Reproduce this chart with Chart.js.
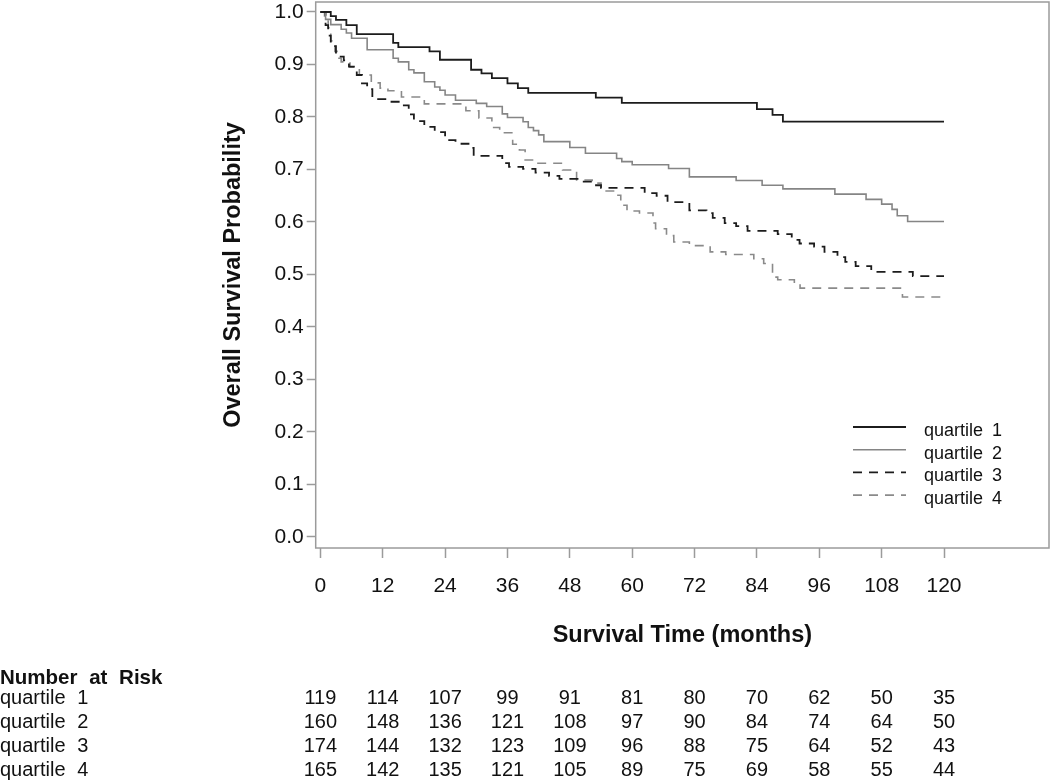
<!DOCTYPE html>
<html>
<head>
<meta charset="utf-8">
<script src="https://cdn.jsdelivr.net/npm/chart.js@4.4.1/dist/chart.umd.min.js"></script>
<style>
  html, body { margin: 0; padding: 0; background: #fff; }
  canvas { display: block; }
</style>
</head>
<body>
<canvas id="kmChart" width="1050" height="780"></canvas>
<script>
/* ======================================================
   DATA
====================================================== */

const seriesLabels = ["quartile 1", "quartile 2", "quartile 3", "quartile 4"];

const q1Time = [0, 2, 3, 5, 7, 14, 15, 21, 23, 29, 31, 33, 36, 38, 40, 53, 58, 84, 87, 89, 120];
const q1Surv = [1.0, 0.992, 0.985, 0.975, 0.958, 0.941, 0.933, 0.925, 0.909, 0.890, 0.883, 0.874, 0.864, 0.855, 0.846, 0.837, 0.827, 0.815, 0.804, 0.791, 0.791];

const q2Time = [0, 1, 2, 4, 5, 6, 9, 14, 15, 17, 18, 20, 22, 23, 24, 26, 30, 32, 35, 36, 39, 40, 41, 42, 43, 48, 51, 57, 58, 60, 67, 71, 80, 85, 89, 99, 105, 108, 110, 111, 113, 120];
const q2Surv = [1.0, 0.986, 0.976, 0.967, 0.960, 0.950, 0.928, 0.912, 0.905, 0.890, 0.884, 0.867, 0.857, 0.851, 0.842, 0.832, 0.826, 0.820, 0.806, 0.799, 0.791, 0.780, 0.774, 0.766, 0.753, 0.742, 0.731, 0.721, 0.715, 0.709, 0.702, 0.686, 0.679, 0.670, 0.663, 0.653, 0.643, 0.634, 0.624, 0.612, 0.601, 0.601];

const q3Time = [0, 1, 1.5, 2, 3, 4.5, 5.5, 7, 8, 9, 10, 12.5, 15.5, 17, 18, 20, 22, 24, 26, 28.5, 29.5, 35, 36.3, 39, 41.4, 44, 46, 50, 52.5, 54, 62.4, 64.7, 66.8, 71, 74.3, 75.5, 77.8, 80, 82.2, 88, 90.7, 92.2, 95, 97, 99.5, 101, 103, 106, 114, 120];
const q3Surv = [1.0, 0.975, 0.955, 0.935, 0.915, 0.908, 0.896, 0.880, 0.864, 0.853, 0.834, 0.829, 0.822, 0.805, 0.792, 0.781, 0.771, 0.756, 0.749, 0.741, 0.726, 0.712, 0.705, 0.701, 0.694, 0.688, 0.682, 0.677, 0.670, 0.665, 0.655, 0.650, 0.638, 0.622, 0.617, 0.608, 0.598, 0.592, 0.583, 0.577, 0.566, 0.559, 0.553, 0.543, 0.533, 0.524, 0.516, 0.505, 0.497, 0.497];

const q4Time = [0, 0.8, 1.5, 2, 2.8, 3.2, 4, 5.7, 7.5, 9.8, 11.5, 13, 15.6, 20, 28, 30.5, 33, 34.5, 37, 38.3, 39.4, 41.2, 46.6, 49.3, 52.3, 54, 56.6, 57.8, 59, 61.4, 64, 64.5, 66.6, 68, 71, 75, 78, 83.4, 85.3, 87, 88, 91.2, 92.3, 112, 120];
const q4Surv = [1.0, 0.985, 0.97, 0.945, 0.925, 0.912, 0.905, 0.895, 0.880, 0.865, 0.855, 0.850, 0.838, 0.825, 0.812, 0.798, 0.780, 0.770, 0.748, 0.737, 0.718, 0.712, 0.699, 0.680, 0.674, 0.659, 0.651, 0.632, 0.621, 0.617, 0.598, 0.587, 0.574, 0.562, 0.555, 0.543, 0.538, 0.530, 0.521, 0.495, 0.490, 0.483, 0.474, 0.457, 0.457];

const xTicks = [0, 12, 24, 36, 48, 60, 72, 84, 96, 108, 120];
const yTicks = [0, 0.1, 0.2, 0.3, 0.4, 0.5, 0.6, 0.7, 0.8, 0.9, 1.0];

const riskTitle = "Number at Risk";
const riskQ1 = [119, 114, 107, 99, 91, 81, 80, 70, 62, 50, 35];
const riskQ2 = [160, 148, 136, 121, 108, 97, 90, 84, 74, 64, 50];
const riskQ3 = [174, 144, 132, 123, 109, 96, 88, 75, 64, 52, 43];
const riskQ4 = [165, 142, 135, 121, 105, 89, 75, 69, 58, 55, 44];

/* ======================================================
   HELPERS
====================================================== */

const FONT = "'Liberation Sans', Arial, Helvetica, sans-serif";
const AXIS_GREY = "#9b9b9b";

function toPoints(times, surv) {
  return times.map((t, i) => ({ x: t, y: surv[i] }));
}

function fixTicks(values) {
  return scale => { scale.ticks = values.map(v => ({ value: v })); };
}

// no extra room for edge labels, the layout is set by hand
function noEdgePadding(scale) {
  scale.paddingTop = 0;
  scale.paddingBottom = 0;
  scale.paddingLeft = 0;
  scale.paddingRight = 0;
}

/* ======================================================
   PLUGINS
====================================================== */

// frame round the plot area
const framePlugin = {
  id: "frame",
  beforeDatasetsDraw(chart) {
    const { ctx, chartArea: a } = chart;
    ctx.save();
    ctx.strokeStyle = AXIS_GREY;
    ctx.lineWidth = 1.5;
    ctx.strokeRect(a.left, a.top, a.right - a.left, a.bottom - a.top);
    ctx.restore();
  }
};

// legend inside the plot, lower right
const legendPlugin = {
  id: "kmLegend",
  afterDatasetsDraw(chart) {
    const { ctx } = chart;
    const x0 = 853, x1 = 906, tx = 924, y0 = 431, step = 22.7;
    ctx.save();
    ctx.font = "18px " + FONT;
    ctx.textBaseline = "middle";
    ctx.textAlign = "left";
    ctx.fillStyle = "#111";
    if ("wordSpacing" in ctx) ctx.wordSpacing = "4px";
    chart.data.datasets.forEach((ds, i) => {
      const y = y0 + i * step;
      ctx.beginPath();
      ctx.setLineDash(ds.borderDash || []);
      ctx.strokeStyle = ds.borderColor;
      ctx.lineWidth = ds.borderWidth;
      ctx.moveTo(x0, y - 4);
      ctx.lineTo(x1, y - 4);
      ctx.stroke();
      ctx.fillText(ds.label, tx, y);
    });
    ctx.restore();
  }
};

// number-at-risk table under the x axis
const riskTablePlugin = {
  id: "riskTable",
  afterDraw(chart) {
    const { ctx } = chart;
    const xs = chart.scales.x;
    const rows = [riskQ1, riskQ2, riskQ3, riskQ4];
    const baseY = [703.5, 727.8, 752.1, 776.4];
    ctx.save();
    ctx.fillStyle = "#111";
    ctx.textBaseline = "alphabetic";
    if ("wordSpacing" in ctx) ctx.wordSpacing = "6px";
    ctx.textAlign = "left";
    ctx.font = "bold 20.5px " + FONT;
    ctx.fillText(riskTitle, 0, 684);
    ctx.font = "20px " + FONT;
    rows.forEach((row, r) => {
      ctx.textAlign = "left";
      ctx.fillText(seriesLabels[r], 0, baseY[r]);
      ctx.textAlign = "center";
      row.forEach((n, i) => {
        ctx.fillText(String(n), xs.getPixelForValue(xTicks[i]), baseY[r]);
      });
    });
    ctx.restore();
  }
};

/* ======================================================
   CHART
====================================================== */

const ctx = document.getElementById("kmChart");

new Chart(ctx, {
  type: "line",
  data: {
    datasets: [
      { label: seriesLabels[0], data: toPoints(q1Time, q1Surv), borderColor: "#1c1c1c", borderWidth: 1.8 },
      { label: seriesLabels[1], data: toPoints(q2Time, q2Surv), borderColor: "#858585", borderWidth: 1.6 },
      { label: seriesLabels[2], data: toPoints(q3Time, q3Surv), borderColor: "#1c1c1c", borderWidth: 1.8, borderDash: [9, 7] },
      { label: seriesLabels[3], data: toPoints(q4Time, q4Surv), borderColor: "#8a8a8a", borderWidth: 1.6, borderDash: [9, 7] }
    ]
  },
  options: {
    responsive: false,
    animation: false,
    devicePixelRatio: 1,
    layout: { padding: { left: 220, top: 2, right: 1, bottom: 130 } },
    elements: {
      line: { stepped: true, fill: false, tension: 0 },
      point: { radius: 0, hoverRadius: 0 }
    },
    plugins: {
      legend: { display: false },
      tooltip: { enabled: false }
    },
    scales: {
      x: {
        type: "linear",
        min: -0.9,
        max: 140.2,
        afterBuildTicks: fixTicks(xTicks),
        afterFit: s => { s.height = 102; noEdgePadding(s); },
        border: { display: false },
        grid: { drawOnChartArea: false, drawTicks: true, tickLength: 10, tickColor: AXIS_GREY, tickWidth: 1.5 },
        ticks: { color: "#111", font: { family: FONT, size: 21 }, padding: 16, maxRotation: 0 },
        title: {
          display: true,
          text: "Survival Time (months)",
          color: "#111",
          font: { family: FONT, size: 23.5, weight: "bold" },
          padding: { top: 0, bottom: 0 }
        }
      },
      y: {
        type: "linear",
        min: -0.021,
        max: 1.019,
        afterBuildTicks: fixTicks(yTicks),
        afterFit: s => { s.width = 95.7; noEdgePadding(s); },
        border: { display: false },
        grid: { drawOnChartArea: false, drawTicks: true, tickLength: 9, tickColor: AXIS_GREY, tickWidth: 1.5 },
        ticks: { color: "#111", font: { family: FONT, size: 21 }, padding: 3, callback: v => v.toFixed(1) },
        title: {
          display: true,
          text: "Overall Survival Probability",
          color: "#111",
          font: { family: FONT, size: 23.5, weight: "bold" },
          padding: { top: -1, bottom: 0 }
        }
      }
    }
  },
  plugins: [framePlugin, legendPlugin, riskTablePlugin]
});
</script>
</body>
</html>
